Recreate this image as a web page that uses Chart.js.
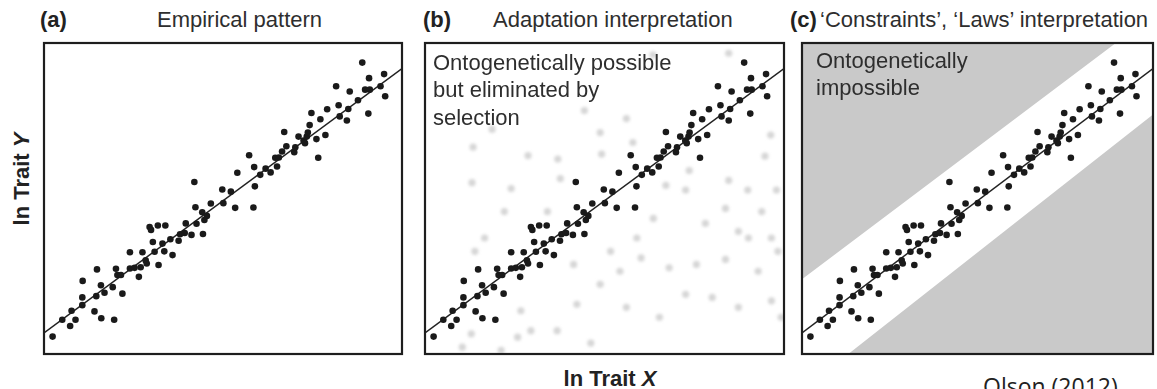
<!DOCTYPE html>
<html>
<head>
<meta charset="utf-8">
<script src="https://cdn.jsdelivr.net/npm/chart.js@4.4.1/dist/chart.umd.min.js"></script>
<style>
  html, body { margin: 0; padding: 0; background: #fff; }
  #wrap { position: relative; width: 1157px; height: 389px; overflow: hidden;
          font-family: "Liberation Sans", Arial, Helvetica, sans-serif; color: #333; }
  #wrap canvas { position: absolute; }
  .t { position: absolute; font-size: 22px; line-height: 22px; white-space: nowrap; top: 9px; color: #2e2e2e; }
  .tag { font-weight: bold; color: #222; }
  .axis { position: absolute; font-size: 22px; line-height: 22px; font-weight: bold; color: #222; white-space: nowrap; }
  .note { position: absolute; font-size: 22px; white-space: nowrap; color: #2e2e2e; }
  .src { position: absolute; font-family: "Open Sans", sans-serif; font-size: 23px; line-height: 23px; color: #222; white-space: nowrap; }
</style>
</head>
<body>
<div id="wrap">
  <canvas id="pa" width="366" height="319" style="left:40px;top:39px"></canvas>
  <canvas id="pb" width="367" height="319" style="left:421px;top:39px"></canvas>
  <canvas id="pc" width="359" height="319" style="left:798px;top:39px"></canvas>

  <div class="t tag" style="left:40px">(a)</div>
  <div class="t" style="left:157px">Empirical pattern</div>
  <div class="t tag" style="left:423px">(b)</div>
  <div class="t" style="left:493px">Adaptation interpretation</div>
  <div class="t tag" style="left:790px">(c)</div>
  <div class="t" style="left:820px">‘Constraints’, ‘Laws’ interpretation</div>

  <div class="note" style="left:433px;top:48.5px;line-height:27.5px">Ontogenetically possible<br>but eliminated by<br>selection</div>
  <div class="note" style="left:816px;top:47px;line-height:27px">Ontogenetically<br>impossible</div>

  <div class="axis" style="left:-25px;top:168px;width:94px;text-align:center;transform:rotate(-90deg);">ln Trait <i>Y</i></div>
  <div class="axis" style="left:560px;top:368px;width:100px;text-align:center;">ln Trait <i>X</i></div>
  <div class="src" style="left:983px;top:375px">Olson (2012)</div>
</div>

<script>
// Observed species values (log scale, arbitrary units 0–100)
const traitX = [2.4, 5.1, 7.3, 7.7, 8.8, 10.7, 10.7, 10.8, 14.1, 14.6, 14.8, 15.9, 16.0, 16.9, 19.2, 19.6,
  20.1, 20.5, 21.5, 21.9, 24.0, 24.0, 25.3, 26.5, 27.0, 27.5, 28.4, 28.7, 29.5, 29.9, 31.8, 33.9,
  30.4, 30.9, 32.0, 33.1, 33.6, 35.3, 35.9, 37.6, 38.0, 39.3, 39.6, 41.2, 42.0, 42.3, 42.6, 44.2,
  44.4, 44.8, 45.5, 46.6, 49.8, 50.1, 52.2, 53.4, 54.0, 57.3, 58.5, 58.9, 58.7, 60.4, 61.9, 63.3,
  64.6, 65.1, 65.6, 66.5, 67.1, 67.7, 69.9, 70.2, 71.1, 72.5, 72.9, 73.4, 73.7, 74.2, 74.7, 76.1,
  76.6, 77.2, 78.6, 79.1, 81.6, 82.3, 82.6, 84.6, 85.0, 85.4, 87.7, 88.9, 90.6, 90.8, 89.7, 91.0,
  94.0, 95.0, 95.3];
const traitY = [5.6, 11.0, 9.0, 13.9, 11.0, 15.7, 18.2, 23.5, 13.7, 18.6, 27.2, 22.1, 11.5, 19.7, 21.5, 11.0,
  27.4, 25.4, 25.4, 19.4, 32.7, 27.5, 27.7, 24.8, 27.9, 32.7, 30.1, 29.1, 40.8, 39.9, 41.3, 41.3,
  36.0, 32.9, 28.6, 35.5, 33.0, 36.9, 31.8, 36.4, 38.5, 38.9, 42.0, 38.3, 55.3, 47.2, 41.9, 45.6,
  38.6, 43.1, 44.4, 48.4, 52.9, 48.5, 52.2, 47.0, 58.3, 63.9, 47.1, 53.9, 60.1, 57.6, 59.6, 58.4,
  63.1, 60.3, 63.2, 65.1, 71.4, 66.8, 64.9, 66.5, 69.9, 68.6, 67.8, 69.9, 71.2, 73.6, 77.5, 69.1,
  63.1, 75.5, 70.4, 78.7, 86.1, 80.0, 76.4, 75.1, 78.8, 84.4, 81.6, 93.7, 77.3, 88.7, 85.0, 85.0,
  86.1, 90.0, 82.9];

// Ontogenetically possible forms removed by selection
const removedX = [13.4, 18.7, 28.7, 37.0, 44.4, 48.8, 49.2, 56.1, 57.9, 73.6, 84.6, 89.9, 97.9, 96.3, 94.7,
  83.7, 78.1, 72.6, 67.1, 63.6, 59.0, 51.7, 54.3, 60.2, 68.0, 75.6, 83.7, 92.8, 98.3, 96.5, 87.3, 80.0,
  72.6, 65.3, 56.1, 48.8, 46.2, 42.3, 36.8, 29.5, 25.8, 21.2, 12.9, 10.4, 26.7, 16.6, 13.9, 13.1, 24.0,
  22.1, 37.7, 34.1, 41.4, 93.8, 96.5, 90.1, 87.3, 99.2, 63.5, 84.6];
const removedY = [66.5, 72.3, 63.8, 62.7, 78.3, 71.2, 64.3, 75.7, 68.0, 59.0, 55.8, 52.7, 52.7, 70.4, 63.6,
  46.8, 42.0, 52.7, 54.2, 43.6, 37.3, 33.0, 26.6, 30.9, 27.7, 28.8, 30.4, 26.6, 33.0, 17.1, 15.0, 18.2,
  19.2, 11.8, 15.0, 22.4, 3.5, 16.0, 7.5, 7.5, 5.4, 1.2, 6.5, 2.2, 13.9, 37.3, 33.0, 55.1, 53.2,
  45.8, 56.4, 45.8, 28.8, 45.8, 37.3, 37.3, 39.4, 11.8, 96.2, 96.7];

// Allometric fit line endpoints [x, y]
const fitLine = [[0, 6.8], [100, 91.8]];
// Limits of the ontogenetically possible band [x, y]
const bandUpper = [[0, 24.0], [100, 109.0]];
const bandLower = [[0, -11.7], [100, 77.0]];

const toXY = (xs, ys) => xs.map((x, i) => ({ x, y: ys[i] }));
const toPts = pairs => pairs.map(([x, y]) => ({ x, y }));

// Frame around each panel and optional blur for faded marks
const framePlugin = {
  id: 'frame',
  beforeDatasetDraw(chart, args) {
    if (args.meta._dataset.soft) { chart.ctx.save(); chart.ctx.filter = 'blur(1.6px)'; }
  },
  afterDatasetDraw(chart, args) {
    if (args.meta._dataset.soft) { chart.ctx.restore(); }
  },
  afterDraw(chart) {
    const { ctx, chartArea: a } = chart;
    ctx.save();
    ctx.strokeStyle = '#1e1e1e';
    ctx.lineWidth = 2.2;
    ctx.strokeRect(a.left, a.top, a.right - a.left, a.bottom - a.top);
    ctx.restore();
  }
};

function observedSets() {
  return [
    { type: 'line', data: toPts(fitLine), borderColor: '#222', borderWidth: 1.5,
      pointRadius: 0, fill: false, order: 1 },
    { type: 'scatter', data: toXY(traitX, traitY), pointRadius: 3.3,
      pointBackgroundColor: '#1a1a1a', pointBorderWidth: 0, order: 0 }
  ];
}

function makePanel(id, extra) {
  return new Chart(document.getElementById(id), {
    type: 'scatter',
    data: { datasets: extra.concat(observedSets()) },
    options: {
      responsive: false, animation: false, devicePixelRatio: 1,
      layout: { padding: 2 },
      plugins: { legend: { display: false }, tooltip: { enabled: false } },
      scales: {
        x: { type: 'linear', min: 0, max: 100, display: false },
        y: { type: 'linear', min: 0, max: 100, display: false }
      }
    },
    plugins: [framePlugin]
  });
}

makePanel('pa', []);

makePanel('pb', [
  { type: 'scatter', soft: true, data: toXY(removedX, removedY), pointRadius: 3.6,
    pointBackgroundColor: '#d6d6d6', pointBorderWidth: 0, order: 5 }
]);

makePanel('pc', [
  { type: 'line', data: toPts(bandUpper), borderWidth: 0, pointRadius: 0,
    fill: 'end', backgroundColor: '#c9c9c9', order: 6 },
  { type: 'line', data: toPts(bandLower), borderWidth: 0, pointRadius: 0,
    fill: 'start', backgroundColor: '#c9c9c9', order: 6 }
]);
</script>
</body>
</html>
